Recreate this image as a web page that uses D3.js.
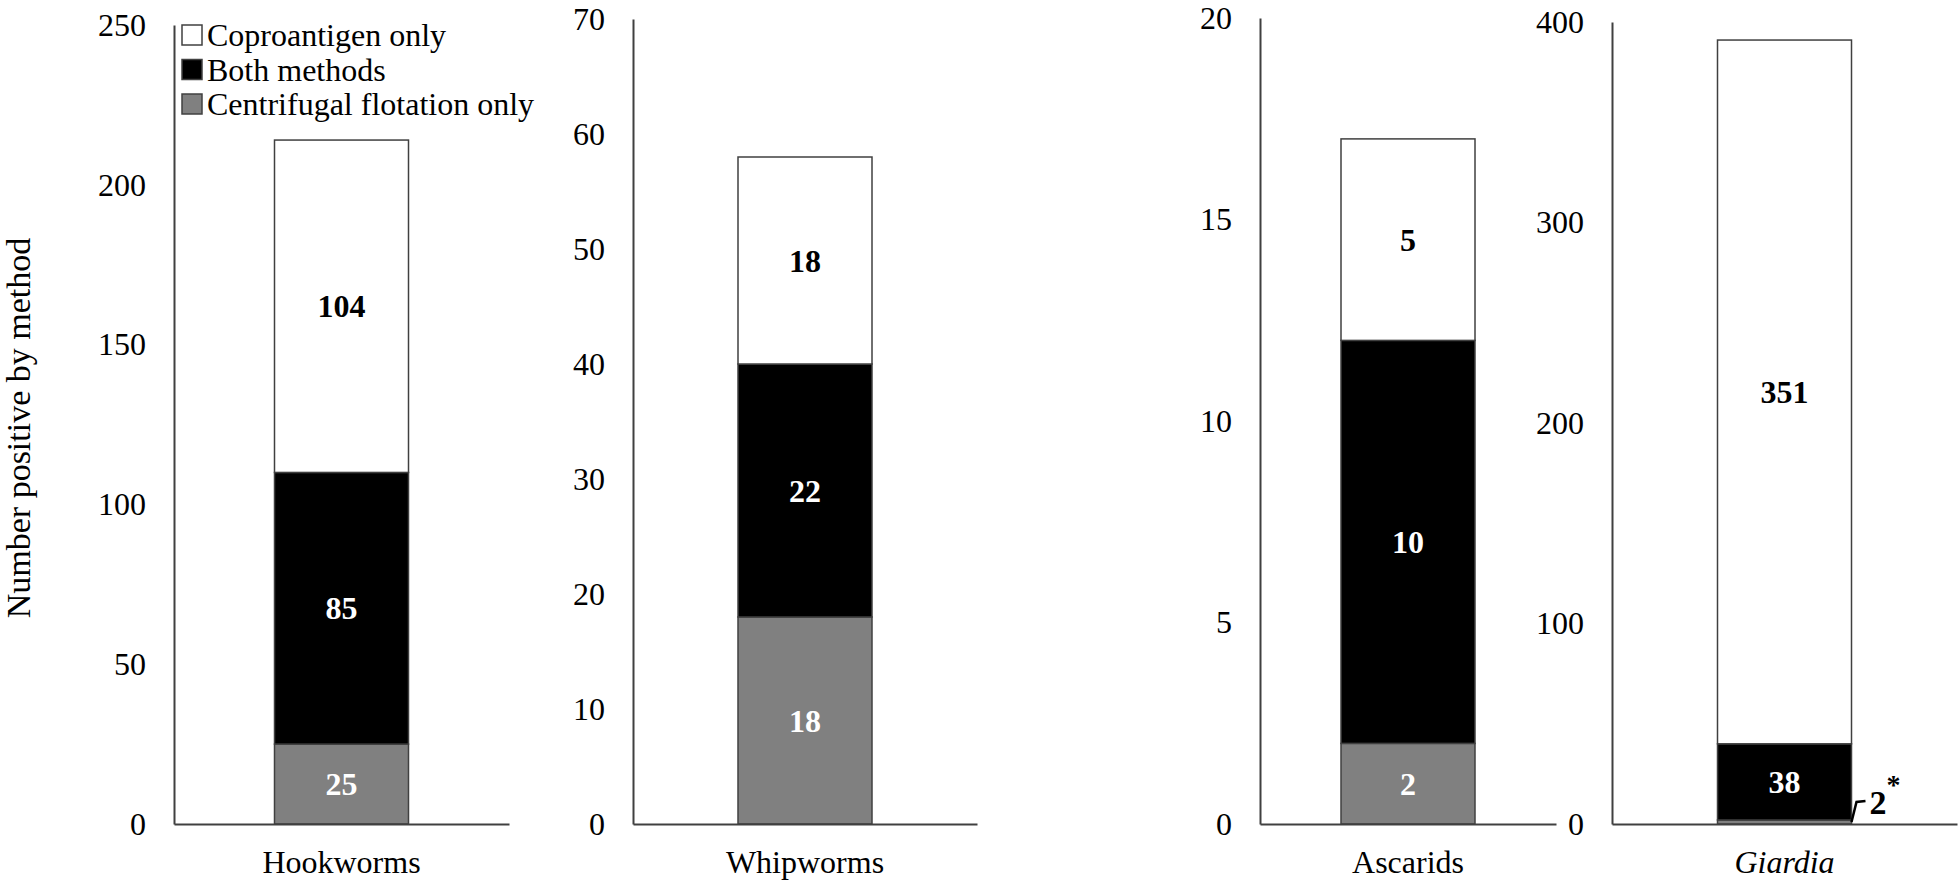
<!DOCTYPE html>
<html>
<head>
<meta charset="utf-8">
<script src="https://cdn.jsdelivr.net/npm/d3@7"></script>
<style>
  body { margin: 0; background: #fff; }
  svg { display: block; }
</style>
</head>
<body>
<svg id="chart" width="1960" height="885"></svg>
<script>
// data
const categories = ["Hookworms", "Whipworms", "Ascarids", "Giardia"];
const seriesNames = ["Centrifugal flotation only", "Both methods", "Coproantigen only"];
const flotationOnly = [25, 18, 2, 2];
const bothMethods = [85, 22, 10, 38];
const coproOnly = [104, 18, 5, 351];
const yMaxes = [250, 70, 20, 400];
const tickSteps = [50, 10, 5, 100];

// layout
const W = 1960, H = 885, base = 824, barW = 134;
const panelLeft = [174, 633, 1260, 1612];
const panelRight = [509, 977, 1556, 1957];
const panelTop = [25, 19, 18, 22];
const fills = ["#808080", "#000000", "#ffffff"];
const labelFill = ["#fff", "#fff", "#000"];
const FONT = '"Liberation Serif"';

const svg = d3.select("#chart").style("font-family", FONT);

categories.forEach((cat, i) => {
    const g = svg.append("g");
    const y = d3.scaleLinear().domain([0, yMaxes[i]]).range([base, panelTop[i]]);
    const span = panelRight[i] - panelLeft[i];
    const x = d3.scaleBand().domain([cat]).range([panelLeft[i], panelRight[i]])
        .paddingInner(0).paddingOuter((span / barW - 1) / 2);

    const vals = [flotationOnly[i], bothMethods[i], coproOnly[i]];
    const stack = d3.stack().keys([0, 1, 2])([vals]);

    // bars
    stack.forEach((s, k) => {
        const d = s[0];
        g.append("rect")
            .attr("x", x(cat)).attr("width", x.bandwidth())
            .attr("y", y(d[1])).attr("height", y(d[0]) - y(d[1]))
            .attr("fill", fills[k]).attr("stroke", "#404040").attr("stroke-width", 1.5);
        const h = y(d[0]) - y(d[1]);
        if (h > 20) {
            g.append("text")
                .attr("x", x(cat) + x.bandwidth() / 2).attr("y", (y(d[0]) + y(d[1])) / 2)
                .attr("dy", "0.35em").attr("text-anchor", "middle")
                .style("font-family", FONT).style("font-size", "32px").style("font-weight", 700)
                .attr("fill", labelFill[k]).text(vals[k]);
        }
    });

    // axes
    const yAxis = d3.axisLeft(y).tickValues(d3.range(0, yMaxes[i] + 1, tickSteps[i]))
        .tickSize(0).tickPadding(28);
    const ay = g.append("g").attr("transform", `translate(${panelLeft[i]},0)`).call(yAxis);
    ay.select(".domain").attr("stroke", "#404040").attr("stroke-width", 2);
    ay.selectAll("text").style("font-family", FONT).style("font-size", "32px").attr("fill", "#000");

    const xAxis = d3.axisBottom(x).tickSize(0).tickPadding(26);
    const ax = g.append("g").attr("transform", `translate(0,${base})`).call(xAxis);
    ax.select(".domain").attr("stroke", "#404040").attr("stroke-width", 2);
    ax.selectAll("text").style("font-family", FONT).style("font-size", "32px").attr("fill", "#000")
        .style("font-style", cat === "Giardia" ? "italic" : "normal");

    // small-segment annotation for Giardia
    if (cat === "Giardia") {
        const bx = x(cat) + x.bandwidth();
        const by = y(flotationOnly[i] / 2);
        g.append("path")
            .attr("d", `M${bx},${by} L${bx + 5},${by - 20} L${bx + 14},${by - 21}`)
            .attr("fill", "none").attr("stroke", "#000").attr("stroke-width", 2.5);
        const t = g.append("text").attr("x", bx + 18).attr("y", by - 8)
            .style("font-family", FONT).style("font-size", "34px").style("font-weight", 700);
        t.append("tspan").text(flotationOnly[i]);
        t.append("tspan").attr("dy", -20).style("font-size", "28px").text("*");
    }
});

// y title
svg.append("text")
    .attr("transform", "translate(30,428) rotate(-90)")
    .attr("text-anchor", "middle").attr("fill", "#000")
    .style("font-family", FONT).style("font-size", "34px")
    .text("Number positive by method");

// legend
const legend = svg.append("g").attr("transform", "translate(182,35)");
[2, 1, 0].forEach((k, j) => {
    const row = legend.append("g").attr("transform", `translate(0,${j * 34.5})`);
    row.append("rect").attr("x", 0).attr("y", -10).attr("width", 20).attr("height", 20)
        .attr("fill", fills[k]).attr("stroke", "#404040").attr("stroke-width", 1.5);
    row.append("text").attr("x", 25).attr("y", 0).attr("dy", "0.35em")
        .style("font-family", FONT).style("font-size", "32px").attr("fill", "#000").text(seriesNames[k]);
});
</script>
</body>
</html>
